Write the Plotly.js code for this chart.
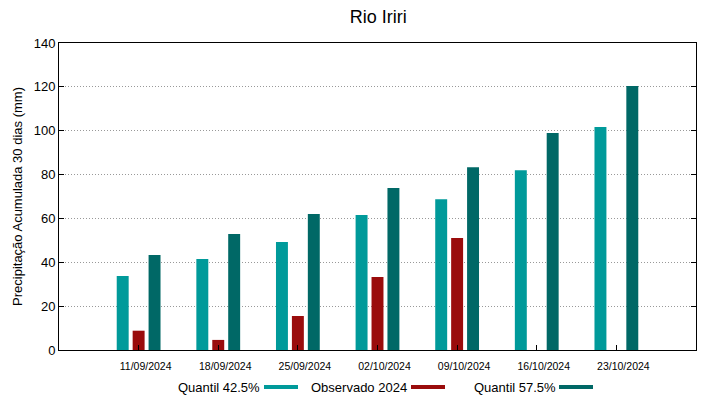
<!DOCTYPE html>
<html>
<head>
<meta charset="utf-8">
<script src="https://cdn.plot.ly/plotly-3.0.1.min.js"></script>
<style>html,body{margin:0;padding:0;background:#fff;}#chart{width:719px;height:399px;}</style>
</head>
<body>
<div id="chart"></div>
<script>
const dates = ["11/09/2024","18/09/2024","25/09/2024","02/10/2024","09/10/2024","16/10/2024","23/10/2024"];
const quantil425 = [33.8, 41.5, 49.2, 61.6, 68.8, 82.0, 101.7];
const observado2024 = [8.8, 4.6, 15.5, 33.3, 51.1, null, null];
const quantil575 = [43.3, 52.9, 62.0, 73.9, 83.3, 99.0, 120.4];
const seriesNames = ["Quantil 42.5%", "Observado 2024", "Quantil 57.5%"];
const colors = ["#009a9a", "#9a0c0c", "#006866"];

const xs = dates.map((d, i) => i);
const offsets = [-0.275, -0.075, 0.125];
const series = [quantil425, observado2024, quantil575];

const traces = series.map((vals, k) => ({
  type: "bar",
  x: xs,
  y: vals,
  name: seriesNames[k],
  width: 0.15,
  offset: offsets[k],
  marker: {color: colors[k], line: {width: 0}},
  showlegend: false
}));

// custom legend: text followed by a colored swatch (gnuplot style)
const legendTextX = [176, 309, 472];
const legendSwX = [264, 411, 559];
const annotations = [];
const shapes = [];
seriesNames.forEach((n, k) => {
  annotations.push({
    xref: "paper", yref: "paper",
    x: (legendTextX[k] - 59) / 637, y: (350 - 387) / 307,
    xanchor: "left", yanchor: "middle",
    text: n, showarrow: false,
    font: {family: "Liberation Sans, Arial, sans-serif", size: 13, color: "#000"}
  });
  shapes.push({
    type: "rect", xref: "paper", yref: "paper",
    x0: (legendSwX[k] - 59) / 637, x1: (legendSwX[k] + 34 - 59) / 637,
    y0: (350 - 385) / 307, y1: (350 - 389) / 307,
    fillcolor: colors[k], line: {width: 0}
  });
});

const layout = {
  width: 719, height: 399,
  margin: {l: 59, r: 23, t: 43, b: 49},
  paper_bgcolor: "#fff", plot_bgcolor: "#fff",
  font: {family: "Liberation Sans, Arial, sans-serif", color: "#000"},
  title: {text: "Rio Iriri", x: 0.526, xanchor: "center", y: 0.957, yanchor: "middle", yref: "container",
          font: {size: 18, color: "#000"}},
  barmode: "overlay",
  xaxis: {
    range: [-1, 7],
    tickvals: xs, ticktext: dates,
    ticks: "inside", ticklen: 5, tickcolor: "#000",
    showline: true, linecolor: "#000", linewidth: 1, mirror: true,
    showgrid: false, zeroline: false,
    tickfont: {size: 10.5, color: "#000"},
    ticklabelshift: 7, ticklabelstandoff: 6
  },
  yaxis: {
    range: [0, 140], dtick: 20,
    ticks: "inside", ticklen: 5, tickcolor: "#000",
    showline: true, linecolor: "#000", linewidth: 1, mirror: "allticks",
    showgrid: true, gridcolor: "#999999", griddash: "1px,2px", gridwidth: 1,
    zeroline: false,
    tickfont: {size: 13, color: "#000"},
    title: {text: "Precipitação Acumulada 30 dias (mm)", font: {size: 13, color: "#000"}, standoff: 8}
  },
  annotations: annotations,
  shapes: shapes,
  showlegend: false
};

Plotly.newPlot("chart", traces, layout, {displayModeBar: false, staticPlot: true});
</script>
</body>
</html>
